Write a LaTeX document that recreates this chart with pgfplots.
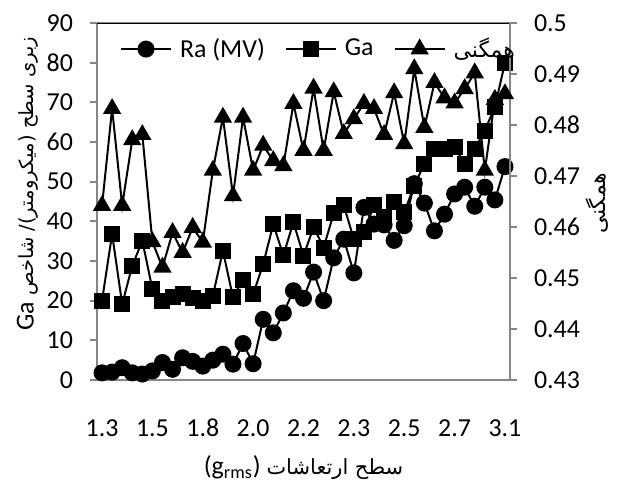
\documentclass[border=0pt]{standalone}
\usepackage{fontspec}
\setmainfont{Carlito}
\newfontfamily\arabicfont[Script=Arabic]{DejaVu Sans}
\usepackage{pgfplots}
\usepackage{pgfplotstable}
\pgfplotsset{compat=1.18}
\TeXXeTstate=1
\definecolor{axgray}{RGB}{134,134,134}

\pgfplotstableread{
i ra ga hom
0 1.8 20.0 0.4642
1 2.0 36.8 0.4832
2 3.1 19.1 0.4642
3 1.8 28.8 0.4771
4 1.5 35.1 0.4781
5 2.3 22.9 0.4571
6 4.4 19.8 0.4521
7 2.7 20.8 0.4589
8 5.6 21.8 0.4550
9 4.7 20.6 0.4599
10 3.5 20.0 0.4570
11 5.0 21.2 0.4711
12 6.5 32.6 0.4815
13 4.0 20.8 0.4661
14 9.2 25.3 0.4815
15 4.1 21.6 0.4711
16 15.3 29.2 0.4760
17 11.9 39.3 0.4730
18 16.9 31.4 0.4720
19 22.5 39.8 0.4842
20 20.6 31.3 0.4750
21 27.2 38.5 0.4872
22 20.0 33.4 0.4750
23 30.8 42.0 0.4865
24 35.5 44.0 0.4783
25 27.0 35.5 0.4812
26 43.5 37.2 0.4842
27 39.3 44.0 0.4832
28 39.1 41.0 0.4781
29 35.2 44.8 0.4863
30 38.9 42.3 0.4763
31 49.5 49.0 0.4910
32 44.6 54.5 0.4795
33 37.6 58.3 0.4883
34 41.8 58.3 0.4853
35 46.9 58.7 0.4843
36 48.6 54.5 0.4871
37 43.8 58.3 0.4902
38 48.6 62.9 0.4711
39 45.4 68.8 0.4850
40 53.8 80.0 0.4861
}\datatable

\pgfplotsset{
  common/.style={
    scale only axis,
    width=206.5bp, height=178.5bp,
    at={(48.5bp,57bp)}, anchor=south west,
    xmin=-0.5, xmax=40.5,
    tick style={axgray, line width=1bp},
    major tick length=3.5bp,
    tick align=outside,
    axis line style={axgray, line width=1bp},
    tick label style={font=\fontsize{13}{15}\selectfont},
    label style={font=\fontsize{13}{15}\selectfont},
    /pgf/number format/assume math mode=true,
  },
  ser/.style={black, line width=1bp, mark options={solid, fill=black}},
}

\begin{document}
\begin{tikzpicture}
\begin{axis}[common,
  ymin=0, ymax=90, ytick={0,10,...,90},
  ytick pos=left,
  xtick={0,5,...,40},
  xticklabels={1.3,1.5,1.8,2.0,2.2,2.3,2.5,2.7,3.1},
  xtick pos=bottom,
  xtick style={draw=none},
  extra x ticks={-0.5,4.5,...,39.5},
  extra x tick labels={},
  extra x tick style={tick style={axgray, line width=1bp}, major tick length=3.5bp},
  xticklabel style={text height=9bp, text depth=0pt, anchor=north, yshift=-12bp},
  yticklabel shift=5bp,
  ylabel={{\fontsize{9.8}{12}\selectfont\arabicfont\beginR زبری سطح (میکرومتر)/ شاخص \beginL{\rmfamily\fontsize{13}{15}\selectfont Ga}\endL\endR}},
  ylabel style={at={(axis description cs:-0.168,0.55)}, anchor=center},
  xlabel={(g\textsubscript{rms})\ {\fontsize{10.5}{12}\selectfont\arabicfont\beginR سطح ارتعاشات\endR}},
  xlabel style={at={(axis description cs:0.5,0)}, yshift=-44bp, anchor=center},
]
\addplot[ser, mark=*, mark size=3.75bp] table[x=i, y=ra] {\datatable};
\addplot[ser, mark=square*, mark size=3.5bp] table[x=i, y=ga] {\datatable};
\draw[black, line width=1bp] (axis description cs:0,1) -- (axis description cs:1,1);
\end{axis}
\begin{axis}[common,
  ymin=0.43, ymax=0.5,
  axis x line=none,
  axis y line*=right,
  ytick={0.43,0.44,0.45,0.46,0.47,0.48,0.49,0.5},
  yticklabels={0.43,0.44,0.45,0.46,0.47,0.48,0.49,0.5},
  yticklabel shift=5bp,
  ylabel={{\fontsize{11}{13}\selectfont\arabicfont همگنی}},
  ylabel style={at={(axis description cs:1.211,0.495)}, anchor=center},
  legend columns=3,
  legend style={at={(axis description cs:0.0557,0.927)}, anchor=west,
    draw=none, fill=none, inner sep=0pt, outer sep=0pt,
    font=\fontsize{13}{15}\selectfont,
    column sep=4bp,
    /tikz/every even column/.append style={column sep=10bp},
    nodes={inner sep=0pt}},
  legend image code/.code={\draw[#1, mark=none] (0bp,0bp) -- (25bp,0bp); \draw[#1, only marks] plot coordinates {(12.5bp,0bp)};},
]
\addlegendimage{ser, mark=*, mark size=3.75bp}
\addlegendentry{Ra (MV)}
\addlegendimage{ser, mark=square*, mark size=3.5bp}
\addlegendentry{Ga}
\addplot[ser, mark=triangle*, mark size=4.3bp] table[x=i, y=hom] {\datatable};
\addlegendentry{{\fontsize{11}{13}\selectfont\arabicfont همگنی}}
\end{axis}
\pgfresetboundingbox
\path[use as bounding box] (0,0) rectangle (308.5bp,247bp);
\end{tikzpicture}
\end{document}
